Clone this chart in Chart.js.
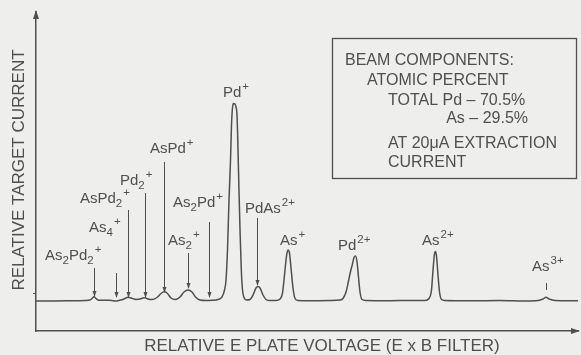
<!DOCTYPE html>
<html>
<head>
<meta charset="utf-8">
<script src="https://cdn.jsdelivr.net/npm/chart.js@4.4.1/dist/chart.umd.min.js"></script>
<style>
  html, body { margin: 0; padding: 0; background: #eeeeec; }
  #wrap { width: 581px; height: 355px; }
</style>
</head>
<body>
<div id="wrap"><canvas id="scan" width="581" height="355"></canvas></div>
<script>
// E x B filter scan of the beam: target current vs plate voltage (relative units)
const voltage = [
  0, 2.58, 6.27, 9.04, 9.96, 10.33, 10.70, 11.07, 11.62, 13.65,
  14.76, 15.68, 16.42, 16.97, 17.53, 18.45, 19.19, 19.74, 20.11, 20.66,
  21.40, 22.32, 23.06, 23.62, 24.17, 24.91, 25.65, 26.57, 27.31, 28.04,
  28.78, 29.52, 30.26, 31.37, 32.47, 33.58, 34.32, 34.78, 35.06, 35.33,
  35.61, 35.89, 36.07, 36.25, 36.44, 36.72, 36.90, 37.05, 37.18, 37.36,
  37.64, 37.88, 38.10, 38.38, 38.84, 39.48, 40.04, 40.59, 40.96, 41.33,
  41.88, 42.44, 43.17, 44.28, 45.02, 45.48, 45.85, 46.22, 46.49, 46.77,
  47.05, 47.42, 47.79, 48.34, 50.55, 54.24, 56.09, 56.64, 57.20, 57.66,
  58.03, 58.39, 58.67, 58.95, 59.23, 59.50, 59.78, 60.15, 60.89, 65.31,
  69.00, 71.77, 72.51, 72.97, 73.25, 73.52, 73.71, 73.89, 74.17, 74.45,
  74.82, 75.46, 80.07, 85.61, 90.22, 92.62, 93.54, 94.10, 94.65, 95.76,
  98.52, 100
];
const current = [
  9.41, 9.41, 9.47, 9.56, 9.72, 10.19, 10.75, 10.19, 9.62, 9.62,
  9.41, 9.72, 10.19, 10.56, 10.35, 9.88, 10.03, 10.35, 10.41, 10.03,
  9.84, 10.50, 11.76, 12.29, 11.91, 10.35, 9.84, 10.66, 12.23, 12.85,
  12.23, 10.50, 9.72, 9.56, 9.62, 9.88, 10.66, 12.85, 15.99, 25.39,
  41.07, 53.61, 64.58, 69.91, 71.32, 71.16, 70.22, 68.66, 63.01, 50.47,
  31.66, 19.12, 12.85, 10.50, 9.72, 9.88, 11.29, 13.48, 13.95, 13.48,
  11.29, 9.88, 9.56, 9.56, 10.03, 11.91, 17.56, 23.51, 25.39, 24.45,
  19.75, 13.48, 10.19, 9.56, 9.50, 9.56, 9.72, 10.19, 12.23, 15.68,
  18.65, 21.00, 23.04, 23.51, 21.63, 16.93, 12.23, 9.88, 9.56, 9.50,
  9.56, 9.56, 10.19, 12.85, 19.12, 24.14, 24.92, 23.51, 17.56, 12.23,
  9.88, 9.56, 9.47, 9.56, 9.41, 9.56, 10.03, 10.56, 10.03, 9.56,
  9.50, 9.50
];

// ion species ("_" = next char subscript, "^" = rest superscript) and their peak voltages
const ions = ['As_2Pd_2^+', 'As_4^+', 'AsPd_2^+', 'Pd_2^+', 'AsPd^+', 'As_2^+', 'As_2Pd^+',
              'Pd^+', 'PdAs^2+', 'As^+', 'Pd^2+', 'As^2+', 'As^3+'];
const ionVoltage = [10.70, 14.76, 16.97, 20.11, 23.62, 28.04, 31.92,
                    36.44, 40.77, 46.49, 58.95, 73.71, 94.10];

// label placement in axis units: text left, text baseline, pointer top, pointer tip, arrowhead
const labelPlacement = [
  [1.66, 22.26, 19.75, 10.97, true],
  [9.78, 31.04, 18.18, 10.66, true],
  [8.12, 40.13, 37.93, 10.66, true],
  [15.50, 45.77, 43.26, 10.66, true],
  [21.03, 55.90, 52.98, 12.23, true],
  [24.35, 26.96, 24.45, 13.48, true],
  [25.28, 38.87, 34.17, 10.66, true],
  [34.50, 73.36, null, null, false],
  [38.56, 36.99, 35.41, 14.42, true],
  [45.02, 26.96, null, null, false],
  [55.72, 25.39, null, null, false],
  [71.22, 26.96, null, null, false],
  [91.51, 18.81, 15.05, 12.85, false]
];

const boxLines = [
  ['BEAM COMPONENTS:', 345, 65, 'left'],
  ['ATOMIC PERCENT', 367, 85, 'left'],
  ['TOTAL Pd \u2013 70.5%', 388, 105, 'left'],
  ['As \u2013 29.5%', 528, 123, 'right'],
  ['AT 20\u03BCA EXTRACTION', 388, 148, 'left'],
  ['CURRENT', 388, 166.5, 'left']
];

const ink = '#4f4f4f';
const FONT = '"Liberation Sans", Arial, sans-serif';

function drawIon(ctx, markup, x, y) {
  let i = 0;
  while (i < markup.length) {
    const c = markup[i];
    if (c === '_') {
      ctx.font = '11.5px ' + FONT;
      ctx.fillText(markup[i + 1], x, y + 4);
      x += ctx.measureText(markup[i + 1]).width;
      i += 2;
    } else if (c === '^') {
      ctx.font = '11.5px ' + FONT;
      ctx.fillText(markup.slice(i + 1), x + 1, y - 7);
      break;
    } else {
      ctx.font = '15px ' + FONT;
      ctx.fillText(c, x, y);
      x += ctx.measureText(c).width;
      i++;
    }
  }
}

const overlay = {
  id: 'overlay',
  afterDraw(chart) {
    const { ctx, chartArea: a, scales: { x, y } } = chart;
    ctx.save();
    ctx.fillStyle = ink;
    ctx.strokeStyle = ink;

    // axis arrowheads
    ctx.beginPath();
    ctx.moveTo(a.left, a.top - 2);
    ctx.lineTo(a.left - 3, a.top + 7);
    ctx.lineTo(a.left + 3, a.top + 7);
    ctx.closePath();
    ctx.fill();
    ctx.beginPath();
    ctx.moveTo(a.right + 2, a.bottom);
    ctx.lineTo(a.right - 7, a.bottom - 3);
    ctx.lineTo(a.right - 7, a.bottom + 3);
    ctx.closePath();
    ctx.fill();

    // peak labels and pointers
    ctx.textBaseline = 'alphabetic';
    ctx.textAlign = 'left';
    ions.forEach((ion, i) => {
      const [left, base, top, tip, head] = labelPlacement[i];
      drawIon(ctx, ion, x.getPixelForValue(left), y.getPixelForValue(base));
      if (top === null) return;
      const px = Math.round(x.getPixelForValue(ionVoltage[i])) + 0.5;
      const pTop = y.getPixelForValue(top);
      const pTip = y.getPixelForValue(tip);
      ctx.lineWidth = 1;
      ctx.beginPath();
      ctx.moveTo(px, pTop);
      ctx.lineTo(px, pTip);
      ctx.stroke();
      if (head) {
        ctx.beginPath();
        ctx.moveTo(px, pTip + 1);
        ctx.lineTo(px - 2, pTip - 5);
        ctx.lineTo(px + 2, pTip - 5);
        ctx.closePath();
        ctx.fill();
      }
    });

    // inset box
    ctx.lineWidth = 1.3;
    ctx.strokeRect(332.5, 38.5, 244, 140);
    ctx.font = '16px ' + FONT;
    boxLines.forEach(([t, bx, by, align]) => {
      ctx.textAlign = align;
      ctx.fillText(t, bx, by);
    });

    // axis titles
    ctx.font = '17px ' + FONT;
    ctx.textAlign = 'center';
    ctx.textBaseline = 'middle';
    ctx.fillText('RELATIVE E PLATE VOLTAGE (E x B FILTER)', 322, 346);
    ctx.save();
    ctx.translate(19.5, 170);
    ctx.rotate(-Math.PI / 2);
    ctx.fillText('RELATIVE TARGET CURRENT', 0, 0);
    ctx.restore();
    ctx.restore();
  }
};

new Chart(document.getElementById('scan'), {
  type: 'line',
  data: {
    datasets: [{
      data: voltage.map((v, i) => ({ x: v, y: current[i] })),
      borderColor: ink,
      borderWidth: 1.5,
      pointRadius: 0,
      fill: false,
      cubicInterpolationMode: 'monotone'
    }]
  },
  options: {
    responsive: false,
    animation: false,
    layout: { padding: { top: 12, right: 3, left: 0, bottom: 0 } },
    plugins: { legend: { display: false }, tooltip: { enabled: false } },
    scales: {
      x: {
        type: 'linear',
        min: 0,
        max: 100,
        ticks: { display: false },
        grid: { display: false },
        border: { display: true, color: ink, width: 1.5 },
        afterFit: s => { s.height = 24; }
      },
      y: {
        min: 0,
        max: 100,
        ticks: { display: false },
        afterBuildTicks: s => { s.ticks = [{ value: 11.9 }]; },
        grid: { drawOnChartArea: false, drawTicks: true, tickLength: 3, color: ink, lineWidth: 1 },
        border: { display: true, color: ink, width: 1.5 },
        afterFit: s => { s.width = 36; }
      }
    }
  },
  plugins: [overlay]
});
</script>
</body>
</html>
